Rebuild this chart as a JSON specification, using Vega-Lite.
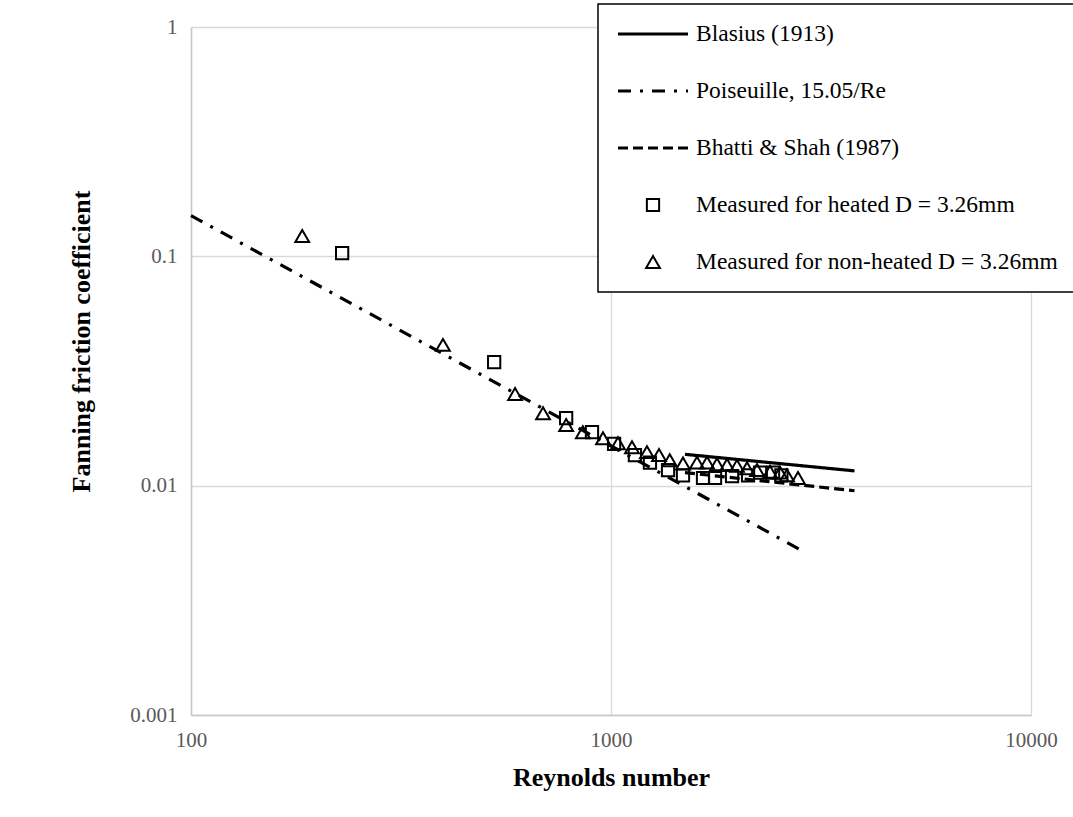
{
  "$schema": "https://vega.github.io/schema/vega-lite/v6.json",
  "width": 840,
  "height": 688,
  "autosize": {"type": "none"},
  "padding": {"left": 191, "top": 27, "right": 42, "bottom": 102},
  "background": "white",
  "config": {
    "view": {"stroke": null},
    "font": "Liberation Serif",
    "axis": {
      "grid": true,
      "gridColor": "#d9d9d9",
      "gridWidth": 1.3,
      "domainColor": "#c8c8c8",
      "domainWidth": 1.5,
      "ticks": false,
      "labelFlush": false,
      "labelFont": "Liberation Serif",
      "labelFontSize": 21,
      "labelColor": "#595959",
      "titleFont": "Liberation Serif",
      "titleFontSize": 26,
      "titleFontWeight": "bold",
      "titleColor": "black"
    },
    "legend": {
      "orient": "none",
      "legendX": 407,
      "legendY": -23,
      "strokeColor": "black",
      "strokeWidth": 1.5,
      "fillColor": "white",
      "padding": 18,
      "rowPadding": 33,
      "clipHeight": 24,
      "labelFont": "Liberation Serif",
      "labelFontSize": 23.5,
      "labelColor": "black",
      "labelLimit": 600,
      "labelOffset": 6,
      "symbolStrokeColor": "black",
      "symbolFillColor": "transparent"
    }
  },
  "datasets": {
    "lines": [
      {"series": "Blasius (1913)", "Re": 1500, "f": 0.0137},
      {"series": "Blasius (1913)", "Re": 3800, "f": 0.0116},
      {"series": "Poiseuille, 15.05/Re", "Re": 100, "f": 0.1505},
      {"series": "Poiseuille, 15.05/Re", "Re": 2800, "f": 0.0053},
      {"series": "Bhatti & Shah (1987)", "Re": 1500, "f": 0.0114},
      {"series": "Bhatti & Shah (1987)", "Re": 3800, "f": 0.0095}
    ],
    "points": [
      {"series": "Measured for heated D = 3.26mm", "Re": 229, "f": 0.1034},
      {"series": "Measured for heated D = 3.26mm", "Re": 527, "f": 0.0346},
      {"series": "Measured for heated D = 3.26mm", "Re": 782, "f": 0.0197},
      {"series": "Measured for heated D = 3.26mm", "Re": 901, "f": 0.0171},
      {"series": "Measured for heated D = 3.26mm", "Re": 1017, "f": 0.0152},
      {"series": "Measured for heated D = 3.26mm", "Re": 1140, "f": 0.0136},
      {"series": "Measured for heated D = 3.26mm", "Re": 1238, "f": 0.0126},
      {"series": "Measured for heated D = 3.26mm", "Re": 1367, "f": 0.0117},
      {"series": "Measured for heated D = 3.26mm", "Re": 1484, "f": 0.0111},
      {"series": "Measured for heated D = 3.26mm", "Re": 1656, "f": 0.0108},
      {"series": "Measured for heated D = 3.26mm", "Re": 1769, "f": 0.0108},
      {"series": "Measured for heated D = 3.26mm", "Re": 1942, "f": 0.011},
      {"series": "Measured for heated D = 3.26mm", "Re": 2120, "f": 0.0111},
      {"series": "Measured for heated D = 3.26mm", "Re": 2264, "f": 0.0114},
      {"series": "Measured for heated D = 3.26mm", "Re": 2431, "f": 0.0114},
      {"series": "Measured for heated D = 3.26mm", "Re": 2545, "f": 0.0111},
      {"series": "Measured for non-heated D = 3.26mm", "Re": 184, "f": 0.1227},
      {"series": "Measured for non-heated D = 3.26mm", "Re": 398, "f": 0.0411},
      {"series": "Measured for non-heated D = 3.26mm", "Re": 591, "f": 0.0251},
      {"series": "Measured for non-heated D = 3.26mm", "Re": 689, "f": 0.0207},
      {"series": "Measured for non-heated D = 3.26mm", "Re": 782, "f": 0.0184},
      {"series": "Measured for non-heated D = 3.26mm", "Re": 857, "f": 0.0171},
      {"series": "Measured for non-heated D = 3.26mm", "Re": 957, "f": 0.0161},
      {"series": "Measured for non-heated D = 3.26mm", "Re": 1039, "f": 0.0153},
      {"series": "Measured for non-heated D = 3.26mm", "Re": 1122, "f": 0.0147},
      {"series": "Measured for non-heated D = 3.26mm", "Re": 1218, "f": 0.014},
      {"series": "Measured for non-heated D = 3.26mm", "Re": 1301, "f": 0.0136},
      {"series": "Measured for non-heated D = 3.26mm", "Re": 1380, "f": 0.0129},
      {"series": "Measured for non-heated D = 3.26mm", "Re": 1484, "f": 0.0125},
      {"series": "Measured for non-heated D = 3.26mm", "Re": 1602, "f": 0.0126},
      {"series": "Measured for non-heated D = 3.26mm", "Re": 1693, "f": 0.0126},
      {"series": "Measured for non-heated D = 3.26mm", "Re": 1788, "f": 0.0124},
      {"series": "Measured for non-heated D = 3.26mm", "Re": 1889, "f": 0.0123},
      {"series": "Measured for non-heated D = 3.26mm", "Re": 1995, "f": 0.0122},
      {"series": "Measured for non-heated D = 3.26mm", "Re": 2108, "f": 0.0119},
      {"series": "Measured for non-heated D = 3.26mm", "Re": 2227, "f": 0.0117},
      {"series": "Measured for non-heated D = 3.26mm", "Re": 2391, "f": 0.0115},
      {"series": "Measured for non-heated D = 3.26mm", "Re": 2526, "f": 0.0114},
      {"series": "Measured for non-heated D = 3.26mm", "Re": 2624, "f": 0.0111},
      {"series": "Measured for non-heated D = 3.26mm", "Re": 2788, "f": 0.0108}
    ]
  },
  "encoding": {
    "x": {
      "field": "Re",
      "type": "quantitative",
      "scale": {"type": "log", "domain": [100, 10000]},
      "axis": {
        "values": [100, 1000, 10000],
        "format": "d",
        "labelPadding": 14,
        "title": "Reynolds number",
        "titleBaseline": "middle",
        "titleY": 62
      }
    },
    "y": {
      "field": "f",
      "type": "quantitative",
      "scale": {"type": "log", "domain": [0.001, 1]},
      "axis": {
        "values": [0.001, 0.01, 0.1, 1],
        "format": "~g",
        "labelPadding": 14,
        "title": "Fanning friction coefficient",
        "titleAngle": 270,
        "titleAlign": "center",
        "titleBaseline": "middle",
        "titleX": -110,
        "titleY": 314
      }
    }
  },
  "layer": [
    {
      "data": {"name": "lines"},
      "mark": {"type": "line", "color": "black", "strokeWidth": 3.2},
      "encoding": {
        "strokeDash": {
          "field": "series",
          "type": "nominal",
          "scale": {
            "domain": ["Blasius (1913)", "Poiseuille, 15.05/Re", "Bhatti & Shah (1987)", "Measured for heated D = 3.26mm", "Measured for non-heated D = 3.26mm"],
            "range": [[1, 0], [13, 9, 3, 9], [10, 5], [1, 0], [1, 0]]
          },
          "legend": {"title": null}
        }
      }
    },
    {
      "data": {"name": "points"},
      "mark": {"type": "point", "filled": false, "color": "black", "opacity": 1},
      "encoding": {
        "shape": {
          "field": "series",
          "type": "nominal",
          "scale": {
            "domain": ["Blasius (1913)", "Poiseuille, 15.05/Re", "Bhatti & Shah (1987)", "Measured for heated D = 3.26mm", "Measured for non-heated D = 3.26mm"],
            "range": ["stroke", "stroke", "stroke", "square", "triangle-up"]
          },
          "legend": {"title": null}
        },
        "size": {
          "field": "series",
          "type": "nominal",
          "scale": {
            "type": "ordinal",
            "domain": ["Blasius (1913)", "Poiseuille, 15.05/Re", "Bhatti & Shah (1987)", "Measured for heated D = 3.26mm", "Measured for non-heated D = 3.26mm"],
            "range": [4900, 4900, 4900, 150, 190]
          },
          "legend": {"title": null}
        },
        "strokeWidth": {
          "field": "series",
          "type": "nominal",
          "scale": {
            "type": "ordinal",
            "domain": ["Blasius (1913)", "Poiseuille, 15.05/Re", "Bhatti & Shah (1987)", "Measured for heated D = 3.26mm", "Measured for non-heated D = 3.26mm"],
            "range": [3.2, 3.2, 3.2, 2, 2]
          },
          "legend": {"title": null}
        }
      }
    }
  ]
}
